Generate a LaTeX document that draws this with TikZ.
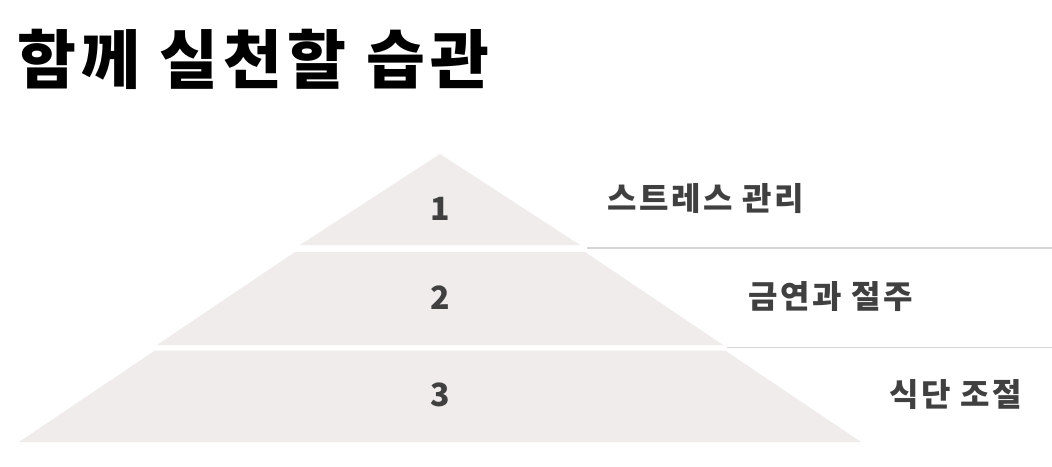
\documentclass[tikz,border=0pt]{standalone}
\usepackage{fontspec}
\setmainfont{Noto Sans CJK KR}
\definecolor{tierfill}{RGB}{240,236,235}
\definecolor{sepline}{RGB}{214,214,214}
\definecolor{labeltext}{RGB}{64,64,64}
\begin{document}
\begin{tikzpicture}[x=1pt,y=-1pt,
  tier/.style={fill=tierfill,draw=none},
  num/.style={inner sep=0pt,font=\fontsize{32}{34}\selectfont\bfseries,text=labeltext},
  lab/.style={inner sep=0pt,font=\fontsize{32}{36}\selectfont\bfseries\addfontfeatures{LetterSpace=8},text=labeltext},
  sep/.style={draw=sepline,line width=1.5pt}]
\useasboundingbox (0,0) rectangle (1052,466);
\fill[white] (0,0) rectangle (1052,466);
% title
\node[anchor=west,inner sep=0pt,font=\fontsize{64}{68}\selectfont\bfseries\addfontfeatures{LetterSpace=8}] (title) at (17,59) {함께 실천할 습관};
% tiers
\path[tier] (440,154) -- (580,245) -- (300,245) -- cycle;
\path[tier] (295,252) -- (585,252) -- (723,345) -- (157,345) -- cycle;
\path[tier] (155,350.5) -- (725,350.5) -- (861,442) -- (19,442) -- cycle;
\node[num] (n1) at (440,209) {1};
\node[num] (n2) at (440,298) {2};
\node[num] (n3) at (440,395) {3};
% separators
\coordinate (s1a) at (587,248);
\coordinate (s1b) at (1052,248);
\coordinate (s2a) at (727,347.5);
\coordinate (s2b) at (1052,347.5);
\draw[sep] (s1a) -- (s1b);
\draw[sep] (s2a) -- (s2b);
% labels
\node[lab] (l1) at (706,199) {스트레스 관리};
\node[lab] (l2) at (831,297) {금연과 절주};
\node[lab] (l3) at (956,395) {식단 조절};
\end{tikzpicture}
\end{document}
